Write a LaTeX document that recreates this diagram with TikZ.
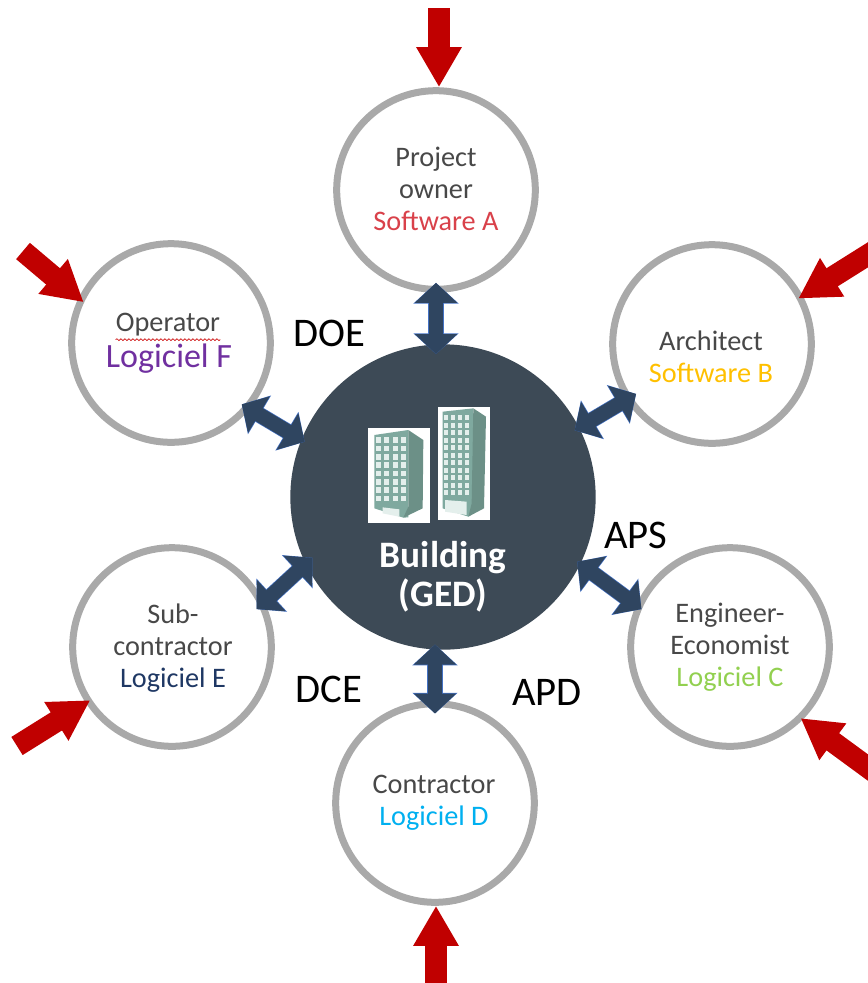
\documentclass[tikz,border=0pt]{standalone}
\usepackage{fontspec}
\setmainfont{Carlito}
\usetikzlibrary{arrows.meta,decorations.pathmorphing}
\definecolor{hubc}{HTML}{3D4A56}
\definecolor{ringc}{HTML}{A9A9A9}
\definecolor{biarr}{HTML}{2F4560}
\definecolor{biedge}{HTML}{4472C4}
\definecolor{redarr}{HTML}{C00000}
\definecolor{greytxt}{HTML}{484848}
\definecolor{towerc}{HTML}{7FA99F}
\definecolor{winc}{HTML}{E4EFEC}
\tikzset{
  ring/.style={circle,draw=ringc,line width=5.25pt,fill=white,minimum size=149pt,inner sep=0pt},
  hubnode/.style={circle,fill=hubc,minimum size=229pt,inner sep=0pt},
  who/.style={align=center,text=greytxt,font=\fontsize{21.2}{23.8}\selectfont,inner sep=0pt},
  hubtext/.style={align=center,text=white,font=\fontsize{28}{29}\selectfont\bfseries,inner sep=0pt},
  phase/.style={text=black,font=\fontsize{30.5}{32}\selectfont,inner sep=0pt},
  biarrow/.style={draw=biarr,line width=11pt,
    {Triangle[length=15pt,width=31pt]}-{Triangle[length=15pt,width=31pt]},
    preaction={draw=biedge,line width=12pt,{Triangle[length=15.5pt,width=33pt]}-{Triangle[length=15.5pt,width=33pt]}}},
  inarrow/.style={draw=redarr,line width=16pt,-{Triangle[length=30pt,width=32pt]}},
  tower/.style={fill=towerc,draw=none},
  towerdark/.style={fill=towerc!85!black,draw=none},
  glass/.style={fill=winc,draw=none}
}
\begin{document}
\begin{tikzpicture}[x=0.75pt,y=-0.75pt]
\useasboundingbox (0,0) rectangle (868,983);
% circles
\node[ring] (owner) at (436,190) {};
\node[ring] (arch) at (712,344) {};
\node[ring] (eng) at (730,647) {};
\node[ring] (contr) at (435,803) {};
\node[ring] (sub) at (172,647) {};
\node[ring] (oper) at (171,343) {};
\node[hubnode] (hub) at (443,497) {};
% double arrows
\draw[biarrow,shorten <=-7.5pt,shorten >=-7.5pt] (owner.south) -- (owner.south |- hub.north);
\draw[biarrow,shorten <=-9pt,shorten >=-4pt] (arch.213) -- (hub.27);
\draw[biarrow,shorten <=-5pt,shorten >=-3pt] (eng.156) -- (hub.-26);
\draw[biarrow,shorten <=-10pt,shorten >=-4pt] (contr.north) -- (contr.north |- hub.south);
\draw[biarrow,shorten <=-8pt,shorten >=-7pt] (sub.26) -- (hub.206);
\draw[biarrow,shorten <=-7pt,shorten >=-3pt] (oper.-40) -- (hub.158);
% incoming arrows
\coordinate (inA) at (439,8);
\coordinate (inB) at (874,251);
\coordinate (inC) at (874,772);
\coordinate (inD) at (436,983);
\coordinate (inE) at (17,746);
\coordinate (inF) at (23,251);
\draw[inarrow] (inA) -- (inA |- owner.north);
\draw[inarrow,shorten >=-4pt] (inB) -- (arch.28);
\draw[inarrow,shorten >=-2pt] (inC) -- (eng.-45);
\draw[inarrow] (inD) -- (inD |- contr.south);
\draw[inarrow,shorten >=-4pt] (inE) -- (sub.-147);
\draw[inarrow,shorten >=-5pt] (inF) -- (oper.154);
% buildings
\begin{scope}[shift={(340,380)},x=0.25pt,y=-0.25pt]
  \fill[white] (85,145) rectangle (270,430);
  \fill[white] (293,80) rectangle (450,420);
  \fill[tower] (103,165) -- (205,150) -- (205,412) -- (190,413) -- (103,385) -- cycle;
  \fill[towerdark] (205,150) -- (250,180) -- (248,385) -- (190,413) -- (205,380) -- cycle;
  \foreach \i in {0,...,3} \foreach \j in {0,...,7}
    \fill[glass] ({108+\i*25},{172+\j*25}) rectangle +(15,17);
  \fill[glass] (128,382) -- (178,388) -- (178,410) -- (128,400) -- cycle;
  \fill[tower] (308,95) -- (400,85) -- (400,400) -- (385,410) -- (308,385) -- cycle;
  \fill[towerdark] (400,85) -- (438,110) -- (432,385) -- (385,410) -- (395,370) -- cycle;
  \foreach \i in {0,...,3} \foreach \j in {0,...,10}
    \fill[glass] ({312+\i*21},{105+\j*22.5}) rectangle +(13,15);
  \fill[glass] (315,360) -- (380,365) -- (380,405) -- (315,395) -- cycle;
\end{scope}
% texts
\node[hubtext] (hublabel) at (443,577) {Building\\(GED)};
\node[who] (ownerlabel) at (436,189) {Project\\owner\\\textcolor[HTML]{D9414A}{Software A}};
\node[who] (archlabel) at (711,357) {Architect\\\textcolor[HTML]{FFC000}{Software B}};
\node[who] (englabel) at (730,647) {Engineer-\\Economist\\\textcolor[HTML]{92D050}{Logiciel C}};
\node[who] (contrlabel) at (434,803) {Contractor\\\textcolor[HTML]{00B0F0}{Logiciel D}};
\node[who] (sublabel) at (173,648) {Sub-\\contractor\\\textcolor[HTML]{1F3864}{Logiciel E}};
\node[who] (operlabel) at (168,325) {Operator};
\node[who,font=\fontsize{25.5}{28}\selectfont,text={rgb,255:red,112;green,48;blue,160}] (softf) at (169,359) {Logiciel F};
\draw[red!80!black,line width=0.5pt,decorate,decoration={snake,amplitude=0.7pt,segment length=3pt}]
  ([yshift=-2.2pt]operlabel.south west) -- ([yshift=-2.2pt]operlabel.south east);
\node[phase] (doe) at (329,333) {DOE};
\node[phase] (aps) at (636,535) {APS};
\node[phase] (dce) at (329,689) {DCE};
\node[phase] (apd) at (547,692) {APD};
\end{tikzpicture}
\end{document}
